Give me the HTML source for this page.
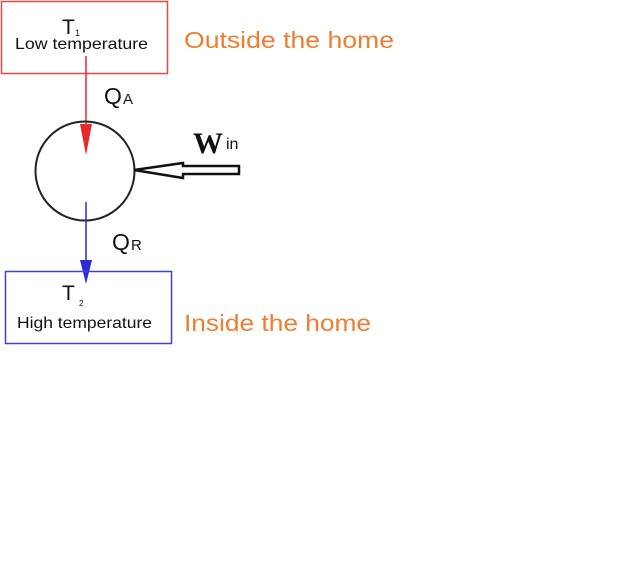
<!DOCTYPE html>
<html><head><style>
html,body{margin:0;padding:0;background:#fff;}
svg{display:block;}
</style></head><body>
<svg width="644" height="562" viewBox="0 0 644 562" xmlns="http://www.w3.org/2000/svg">
<rect width="644" height="562" fill="#fff"/>
<rect x="1.5" y="1.5" width="166" height="72" fill="none" stroke="#e8474a" stroke-width="1.5"/>
<text x="62" y="34" font-family="Liberation Sans, sans-serif" font-size="21" fill="#111">T</text>
<text x="75" y="36" font-family="Liberation Sans, sans-serif" font-size="9" fill="#111">1</text>
<text x="15" y="49" font-family="Liberation Sans, sans-serif" font-size="16" fill="#111" textLength="133" lengthAdjust="spacingAndGlyphs">Low temperature</text>
<text x="184" y="48" font-family="Liberation Sans, sans-serif" font-size="23" fill="#ed7d31" textLength="210" lengthAdjust="spacingAndGlyphs">Outside the home</text>
<line x1="86" y1="56" x2="86" y2="135" stroke="#e8282b" stroke-width="1.5"/>
<polygon points="80,124 92,124 86,155" fill="#e8282b"/>
<text x="104" y="104" font-family="Liberation Sans, sans-serif" font-size="23" fill="#111">Q</text>
<text x="123" y="104" font-family="Liberation Sans, sans-serif" font-size="15" fill="#111">A</text>
<circle cx="85" cy="171" r="49.5" fill="none" stroke="#222" stroke-width="2"/>
<polygon points="134,170 183,163 183,166 239,166 239,174 183,174 183,178" fill="#fff" stroke="#111" stroke-width="2.5" stroke-linejoin="miter"/>
<text x="193" y="153" font-family="Liberation Serif, serif" font-weight="bold" font-size="30" fill="#111">W</text>
<text x="226" y="149" font-family="Liberation Sans, sans-serif" font-size="16" fill="#111">in</text>
<line x1="86" y1="202" x2="86" y2="270" stroke="#2b2bd9" stroke-width="1.5"/>
<polygon points="80,260 92,260 86,284" fill="#2b2bd9"/>
<text x="112" y="250" font-family="Liberation Sans, sans-serif" font-size="23" fill="#111">Q</text>
<text x="131" y="250" font-family="Liberation Sans, sans-serif" font-size="15" fill="#111">R</text>
<rect x="5.5" y="271.5" width="166" height="72" fill="none" stroke="#4040cc" stroke-width="1.5"/>
<text x="62" y="300" font-family="Liberation Sans, sans-serif" font-size="21" fill="#111">T</text>
<text x="79" y="306" font-family="Liberation Sans, sans-serif" font-size="8" fill="#111">2</text>
<text x="17" y="328" font-family="Liberation Sans, sans-serif" font-size="16" fill="#111" textLength="135" lengthAdjust="spacingAndGlyphs">High temperature</text>
<text x="184" y="331" font-family="Liberation Sans, sans-serif" font-size="23" fill="#ed7d31" textLength="187" lengthAdjust="spacingAndGlyphs">Inside the home</text>
</svg>
</body></html>
